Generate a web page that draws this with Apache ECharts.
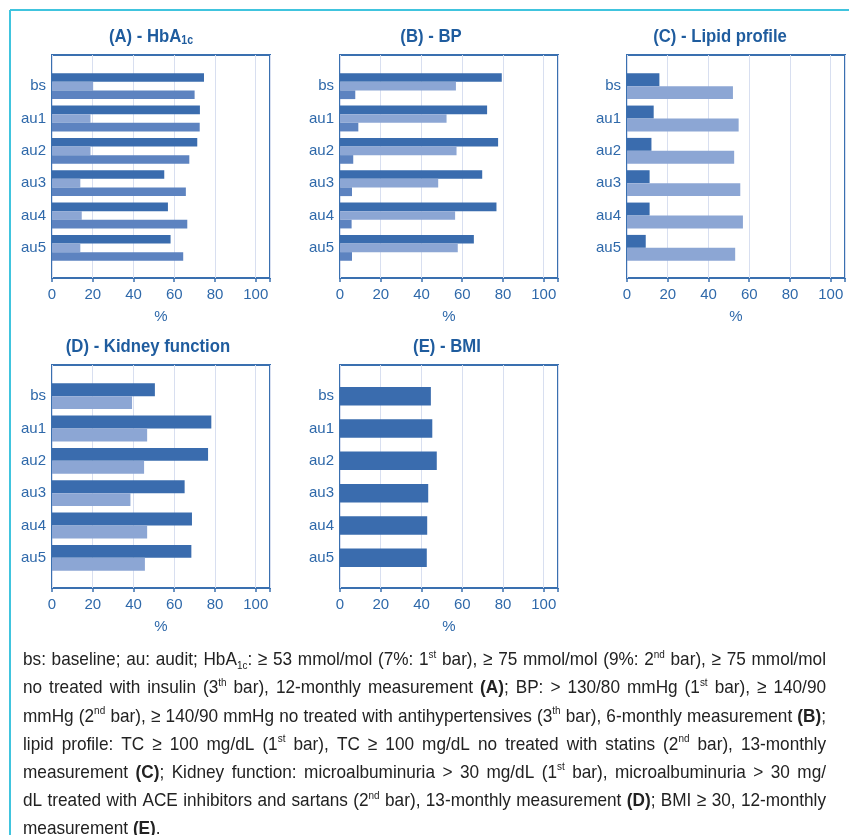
<!DOCTYPE html>
<html>
<head>
<meta charset="utf-8">
<script src="https://cdn.jsdelivr.net/npm/echarts@6/dist/echarts.min.js"></script>
<style>
html, body { margin: 0; padding: 0; background: #ffffff; }
#chart { width: 849px; height: 835px; }
</style>
</head>
<body>
<div id="chart"></div>
<script>
// Audit rows and the percentage ticks shared by every panel
const categories = ['bs', 'au1', 'au2', 'au3', 'au4', 'au5'];
const xTicks = [0, 20, 40, 60, 80, 100];

// (A) HbA1c
const hba1c53 = [74.6, 72.6, 71.3, 55.1, 56.9, 58.2];
const hba1c75 = [20.2, 18.9, 18.9, 13.9, 14.6, 13.9];
const hba1c75NoInsulin = [70.0, 72.5, 67.4, 65.7, 66.4, 64.4];

// (B) Blood pressure
const bp130 = [79.4, 72.2, 77.6, 69.8, 76.8, 65.7];
const bp140 = [56.9, 52.3, 57.2, 48.2, 56.5, 57.8];
const bp140Untreated = [7.5, 9.0, 6.5, 5.9, 5.7, 5.9];

// (C) Lipid profile
const tc100 = [15.9, 13.1, 12.0, 11.1, 11.1, 9.2];
const tc100NoStatins = [52.0, 54.8, 52.6, 55.6, 56.9, 53.1];

// (D) Kidney function
const microalb = [50.5, 78.2, 76.6, 65.1, 68.7, 68.4];
const microalbAceSartans = [39.3, 46.7, 45.2, 38.5, 46.7, 45.6];

// (E) BMI
const bmi30 = [44.6, 45.3, 47.5, 43.3, 42.8, 42.6];

// Caption lines (rich-text markup, justified on draw)
const captionLines = [
  'bs: baseline; au: audit; HbA{sub|1c}: ≥ 53 mmol/mol (7%: 1{sup|st} bar), ≥ 75 mmol/mol (9%: 2{sup|nd} bar), ≥ 75 mmol/mol',
  'no treated with insulin (3{sup|th} bar), 12-monthly measurement {b|(A)}; BP: > 130/80 mmHg (1{sup|st} bar), ≥ 140/90',
  'mmHg (2{sup|nd} bar), ≥ 140/90 mmHg no treated with antihypertensives (3{sup|th} bar), 6-monthly measurement {b|(B)};',
  'lipid profile: TC ≥ 100 mg/dL (1{sup|st} bar), TC ≥ 100 mg/dL no treated with statins (2{sup|nd} bar), 13-monthly',
  'measurement {b|(C)}; Kidney function: microalbuminuria > 30 mg/dL (1{sup|st} bar), microalbuminuria > 30 mg/',
  'dL treated with ACE inhibitors and sartans (2{sup|nd} bar), 13-monthly measurement {b|(D)}; BMI ≥ 30, 12-monthly',
  'measurement {b|(E)}.'
];

const DARK = '#3a6cae';
const LIGHT = '#8ca6d4';
const MID = '#5d83c0';
const AXIS_BLUE = '#3a70b0';
const TEXT_BLUE = '#2f69aa';
const TITLE_BLUE = '#1f5c9e';
const GRID_LINE = '#d8dff0';
const SANS = '"Liberation Sans", Arial, sans-serif';
const AXIS_MAX = 107;
// condensed look for the titles
const TITLE_SCALE = 0.88;

const panels = [
  { title: '(A) - HbA{sub|1c}', tx: 151, ty: 37, box: [52, 55, 270, 278],
    series: [[hba1c53, DARK], [hba1c75, LIGHT], [hba1c75NoInsulin, MID]], gap: '20%' },
  { title: '(B) - BP', tx: 431, ty: 37, box: [340, 55, 558, 278],
    series: [[bp130, DARK], [bp140, LIGHT], [bp140Untreated, MID]], gap: '20%' },
  { title: '(C) - Lipid profile', tx: 720, ty: 37, box: [627, 55, 845, 278],
    series: [[tc100, DARK], [tc100NoStatins, LIGHT]], gap: '20%' },
  { title: '(D) - Kidney function', tx: 148, ty: 347, box: [52, 365, 270, 588],
    series: [[microalb, DARK], [microalbAceSartans, LIGHT]], gap: '20%' },
  { title: '(E) - BMI', tx: 447, ty: 347, box: [340, 365, 558, 588],
    series: [[bmi30, DARK]], gap: '43%' }
];

const grid = [], xAxis = [], yAxis = [], series = [], graphic = [];

panels.forEach(function (p) {
  const left = p.box[0], top = p.box[1];
  const width = p.box[2] - p.box[0], height = p.box[3] - p.box[1];

  // framed plot area with the percentage axis
  const frameIdx = grid.length;
  grid.push({ left: left, top: top, width: width, height: height, show: true,
              borderColor: AXIS_BLUE, borderWidth: 2, backgroundColor: 'transparent' });
  xAxis.push({
    gridIndex: frameIdx, type: 'value', min: 0, max: AXIS_MAX, interval: 20,
    axisLine: { show: false },
    axisTick: { show: true, length: 4, lineStyle: { color: AXIS_BLUE, width: 1.5 } },
    splitLine: { show: true, lineStyle: { color: GRID_LINE, width: 1 } },
    axisLabel: {
      color: TEXT_BLUE, fontSize: 15, fontFamily: SANS, margin: 9,
      formatter: function (v) { return xTicks.indexOf(v) >= 0 ? String(v) : ''; }
    },
    name: '%', nameLocation: 'middle', nameGap: 31,
    nameTextStyle: { color: TEXT_BLUE, fontSize: 15, fontFamily: SANS }
  });
  yAxis.push({ gridIndex: frameIdx, type: 'value', min: 0, max: 1, show: false });

  // inner band area holding the bars
  const barIdx = grid.length;
  grid.push({ left: left, top: top + 15, width: width, height: height - 29 });
  xAxis.push({ gridIndex: barIdx, type: 'value', min: 0, max: AXIS_MAX, show: false });
  yAxis.push({
    gridIndex: barIdx, type: 'category', data: categories, inverse: true,
    axisLine: { show: false }, axisTick: { show: false }, splitLine: { show: false },
    axisLabel: { color: TEXT_BLUE, fontSize: 15, fontFamily: SANS, margin: 6 }
  });
  p.series.forEach(function (s) {
    series.push({
      type: 'bar', xAxisIndex: barIdx, yAxisIndex: barIdx, data: s[0],
      itemStyle: { color: s[1] }, barGap: '0%', barCategoryGap: p.gap, silent: true
    });
  });

  graphic.push({
    type: 'text', x: p.tx, y: p.ty, scaleX: TITLE_SCALE,
    style: {
      text: p.title, align: 'center', verticalAlign: 'middle',
      fill: TITLE_BLUE, font: 'bold 19px ' + SANS,
      rich: { sub: { fontSize: 12, fontWeight: 'bold', fontFamily: SANS, fill: TITLE_BLUE, verticalAlign: 'bottom' } }
    }
  });
});

// page frame strokes
graphic.push({ type: 'line', shape: { x1: 10, y1: 10, x2: 849, y2: 10 }, style: { stroke: '#40c4de', lineWidth: 2 } });
graphic.push({ type: 'line', shape: { x1: 10, y1: 10, x2: 10, y2: 835 }, style: { stroke: '#40c4de', lineWidth: 2 } });

// caption, condensed to fit the text column and justified word by word
const CAP_SIZE = 19;
const CAP_COLOR = '#222222';
const capRich = {
  sup: { fontSize: 11, fontFamily: SANS, fill: CAP_COLOR, verticalAlign: 'top' },
  sub: { fontSize: 11, fontFamily: SANS, fill: CAP_COLOR, verticalAlign: 'bottom' },
  b: { fontSize: CAP_SIZE, fontWeight: 'bold', fontFamily: SANS, fill: CAP_COLOR }
};
function capStyle(text) {
  return { text: text, font: CAP_SIZE + 'px ' + SANS, fill: CAP_COLOR,
           lineHeight: 22, verticalAlign: 'middle', align: 'left', rich: capRich };
}
function rawWidth(text) {
  return new echarts.graphic.Text({ style: capStyle(text) }).getBoundingRect().width;
}
const CAP_L = 23, CAP_R = 826, CAP_TOP = 660, CAP_STEP = 28.2;
const rawSpace = rawWidth('a a') - rawWidth('aa');
const rawLineWidths = captionLines.map(function (line) {
  const words = line.split(' ');
  return words.reduce(function (a, w) { return a + rawWidth(w); }, 0) + rawSpace * (words.length - 1);
});
const capScale = (CAP_R - CAP_L - 6) / Math.max.apply(null, rawLineWidths);
const spaceW = rawSpace * capScale;

captionLines.forEach(function (line, i) {
  const words = line.split(' ');
  const widths = words.map(function (w) { return rawWidth(w) * capScale; });
  const total = widths.reduce(function (a, b) { return a + b; }, 0);
  const last = i === captionLines.length - 1;
  const gap = last ? spaceW : (CAP_R - CAP_L - total) / (words.length - 1);
  let x = CAP_L;
  words.forEach(function (w, k) {
    graphic.push({ type: 'text', x: x, y: CAP_TOP + i * CAP_STEP, scaleX: capScale, style: capStyle(w) });
    x += widths[k] + gap;
  });
});

const chart = echarts.init(document.getElementById('chart'), null, { renderer: 'canvas' });
chart.setOption({
  animation: false,
  backgroundColor: '#ffffff',
  grid: grid, xAxis: xAxis, yAxis: yAxis, series: series, graphic: graphic
});
</script>
</body>
</html>
